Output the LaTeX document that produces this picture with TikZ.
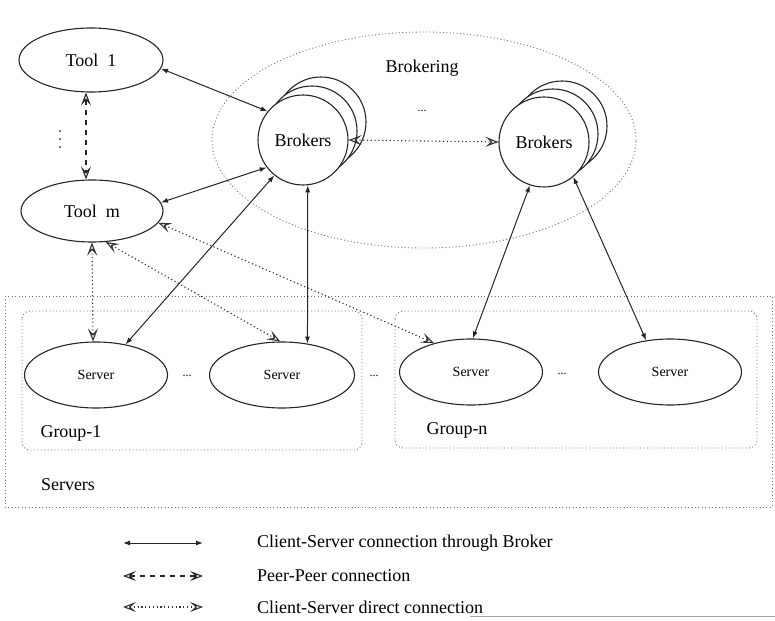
\documentclass[tikz,border=0pt]{standalone}
\usepackage{fontspec}
\setmainfont{Liberation Serif}
\usetikzlibrary{arrows.meta,shapes.geometric}
\begin{document}
\begin{tikzpicture}[x=1pt,y=-1pt,
  every node/.style={font=\fontsize{18}{21}\selectfont, inner sep=0pt},
  ink/.style={draw=black!85, line width=1.1pt},
  dotted box/.style={draw=black!55, line width=0.9pt, dash pattern=on 1pt off 2.4pt},
  toolnode/.style={ink, ellipse, minimum width=144pt, minimum height=64pt, fill=white},
  servernode/.style={ink, ellipse, minimum width=143pt, minimum height=66pt, fill=white,
    font=\fontsize{14}{16}\selectfont},
  brokernode/.style={ink, circle, minimum size=90pt, fill=white},
  smalldots/.style={font=\fontsize{12}{14}\selectfont},
  openhead/.style={{Stealth[open,length=13pt,width=10pt,inset=5.5pt,line width=1.1pt]}-{Stealth[open,length=13pt,width=10pt,inset=5.5pt,line width=1.1pt]}},
  viabroker/.style={draw=black!85, line width=1pt, {Latex[length=7pt,width=5pt]}-{Latex[length=7pt,width=5pt]}},
  peer/.style={draw=black!85, line width=1.1pt, dash pattern=on 5pt off 5pt, openhead},
  direct/.style={draw=black!80, line width=1.1pt, dash pattern=on 1.2pt off 2.6pt, openhead},
]
\useasboundingbox (0,0) rectangle (775,620);

% server area and the two groups
\draw[dotted box] (5,296) rectangle (772,507);
\node[anchor=center] (servers) at (68,485) {Servers};
\draw[dotted box, rounded corners=8pt] (22,311) rectangle (362,450);
\draw[dotted box, rounded corners=8pt] (395,311) rectangle (757,448);
\node (group1) at (71,433) {Group-1};
\node (groupn) at (457,430) {Group-n};

% brokering region
\node[dotted box, ellipse, minimum width=424pt, minimum height=216pt] (brokering) at (424,140) {};
\node (brklabel) at (422,68) {Brokering};
\node[smalldots] (brkdots) at (422,111) {...};

% stacked broker circles
\node[brokernode] (brk1c) at (321,122) {};
\node[brokernode] (brk1b) at (312,131) {};
\node[brokernode] (brk1) at (303,140) {Brokers};
\node[brokernode] (brk2c) at (562,126) {};
\node[brokernode] (brk2b) at (553,134) {};
\node[brokernode] (brk2) at (544,142) {Brokers};

% tools
\node[toolnode] (tool1) at (91,60) {Tool~ 1};
\node[toolnode, minimum width=142pt, minimum height=62pt] (toolm) at (92,211) {Tool~ m};
\foreach \yy in {131,139,147} \fill[black!75] (60,\yy) circle (1.2pt);

% servers
\node[servernode] (srv1) at (96,375) {Server};
\node[servernode, minimum width=145pt] (srv2) at (282,375) {Server};
\node[servernode] (srv3) at (471,372) {Server};
\node[servernode] (srv4) at (670,372) {Server};
\node[smalldots] (sdots1) at (187,376) {...};
\node[smalldots] (sdots2) at (374,376) {...};
\node[smalldots] (sdots3) at (562,374) {...};

% client-server connections through a broker
\draw[viabroker] (tool1.-7) -- (brk1.141);
\draw[viabroker] (toolm.7) -- (brk1.217);
\draw[viabroker] (brk1.231) -- (srv1.46);
\draw[viabroker] (brk1.-84) -- (srv2.51);
\draw[viabroker] (brk2.252) -- (srv3.87);
\draw[viabroker] (brk2.-50) -- (srv4.127);

% peer-peer connections
\draw[peer] ([xshift=-5pt]tool1.south) -- ([xshift=-6pt]toolm.north);
\draw[direct] (brk1.east) -- (brk2.west);

% client-server direct connections
\draw[direct] (toolm.-90) -- (srv1.95);
\draw[direct] (toolm.-66) -- (srv2.93);
\draw[direct] (toolm.-10) -- (srv3.142);

% legend
\coordinate (la1) at (123,543); \coordinate (lb1) at (203,543);
\coordinate (la2) at (123,576); \coordinate (lb2) at (203,576);
\coordinate (la3) at (123,607); \coordinate (lb3) at (203,607);
\draw[viabroker] (la1) -- (lb1);
\draw[peer] (la2) -- (lb2);
\draw[direct] (la3) -- (lb3);
\node[anchor=west] (lt1) at (257,543) {Client-Server connection through Broker};
\node[anchor=west] (lt2) at (257,576) {Peer-Peer connection};
\node[anchor=west] (lt3) at (257,607) {Client-Server direct connection};

% faint rule along the bottom
\coordinate (rulea) at (470,616); \coordinate (ruleb) at (775,616);
\draw[black!35, line width=0.6pt] (rulea) -- (ruleb);
\end{tikzpicture}
\end{document}
